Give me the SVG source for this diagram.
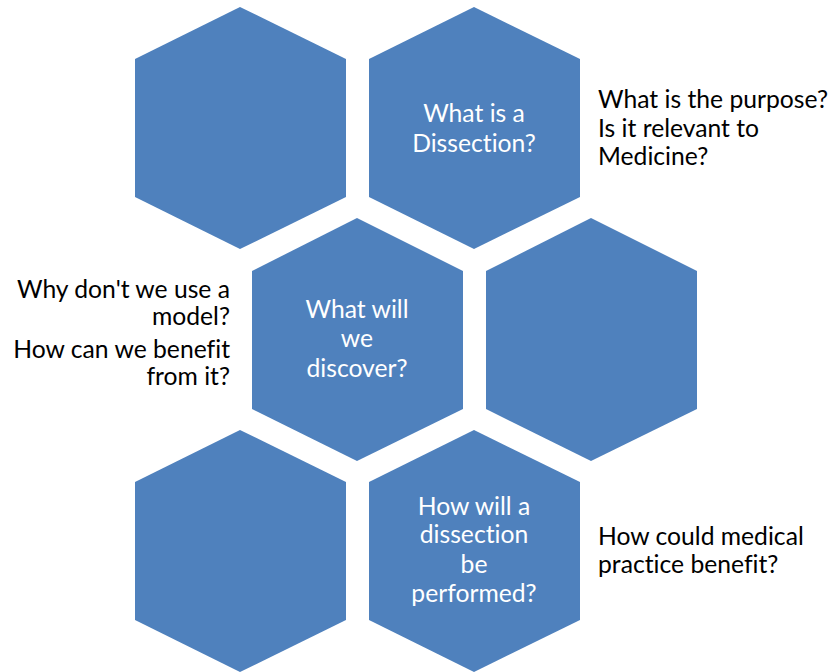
<svg xmlns="http://www.w3.org/2000/svg" width="835" height="672" viewBox="0 0 835 672">
<style>
.hex{fill:#4F81BD}
.t{font-family:Lato,"Liberation Sans",sans-serif;font-size:24.7px;font-variant-ligatures:none}
.w{fill:#FFFFFF;text-anchor:middle}
.k{fill:#000000}
.r{text-anchor:end}
</style>
<rect width="835" height="672" fill="#FFFFFF"/>
<g id="hex1"><polygon class="hex" points="240,7 346,59 346,197 240,249 135,197 135,59"/></g>
<g id="hex2"><polygon class="hex" points="474,7 580,59 580,197 474,249 369,197 369,59"/>
<text class="t w" x="474" y="122">What is a</text>
<text class="t w" x="474" y="152">Dissection?</text></g>
<g id="hex3"><polygon class="hex" points="357,218 463,271 463,409 357,461 252,409 252,271"/>
<text class="t w" x="357" y="318">What will</text>
<text class="t w" x="357" y="347">we</text>
<text class="t w" x="357" y="377">discover?</text></g>
<g id="hex4"><polygon class="hex" points="591,218 697,271 697,409 591,461 486,409 486,271"/></g>
<g id="hex5"><polygon class="hex" points="240,430 346,482 346,620 240,672 135,620 135,482"/></g>
<g id="hex6"><polygon class="hex" points="474,430 580,482 580,620 474,672 369,620 369,482"/>
<text class="t w" x="474" y="515">How will a</text>
<text class="t w" x="474" y="543">dissection</text>
<text class="t w" x="474" y="573">be</text>
<text class="t w" x="474" y="602">performed?</text></g>
<g id="label-right-top">
<text class="t k" x="598" y="108">What is the purpose?</text>
<text class="t k" x="598" y="137">Is it relevant to</text>
<text class="t k" x="598" y="165">Medicine?</text></g>
<g id="label-left">
<text class="t k r" x="230" y="298">Why don't we use a</text>
<text class="t k r" x="230" y="325">model?</text>
<text class="t k r" x="230" y="358">How can we benefit</text>
<text class="t k r" x="230" y="385">from it?</text></g>
<g id="label-right-bottom">
<text class="t k" x="598" y="545">How could medical</text>
<text class="t k" x="598" y="573">practice benefit?</text></g>
<g id="connectors"></g>
</svg>
